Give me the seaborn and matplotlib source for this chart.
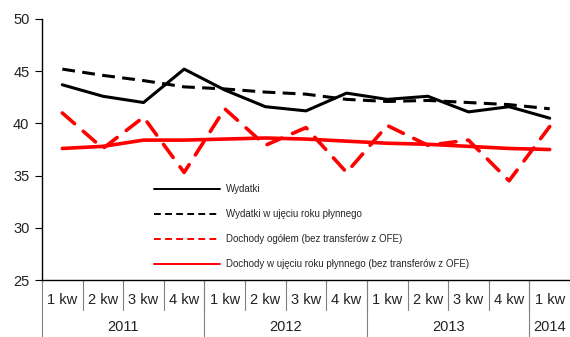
import matplotlib
matplotlib.use("Agg")
import matplotlib.pyplot as plt
from matplotlib.lines import Line2D
from matplotlib.transforms import blended_transform_factory
import seaborn as sns
import pandas as pd

sns.set_theme(style="white")
plt.rcParams["font.family"] = ["Liberation Sans", "DejaVu Sans"]

quarters = ["1 kw", "2 kw", "3 kw", "4 kw"] * 3 + ["1 kw"]
years = ["2011", "2012", "2013", "2014"]
year_spans = [(0, 4), (4, 8), (8, 12), (12, 13)]

wydatki = [43.7, 42.6, 42.0, 45.2, 43.2, 41.6, 41.2, 42.9, 42.3, 42.6, 41.1, 41.6, 40.5]
wydatki_rp = [45.2, 44.6, 44.1, 43.5, 43.3, 43.0, 42.8, 42.3, 42.1, 42.2, 42.0, 41.8, 41.4]
dochody = [41.0, 37.6, 40.6, 35.3, 41.4, 37.9, 39.6, 35.3, 39.8, 37.9, 38.4, 34.5, 39.7]
dochody_rp = [37.6, 37.8, 38.4, 38.4, 38.5, 38.6, 38.5, 38.3, 38.1, 38.0, 37.8, 37.6, 37.5]

labels = [
    "Wydatki",
    "Wydatki w ujęciu roku płynnego",
    "Dochody ogółem (bez transferów z OFE)",
    "Dochody w ujęciu roku płynnego (bez transferów z OFE)",
]

W, H = 570, 337
fig = plt.figure(figsize=(W / 100, H / 100), dpi=100)
ax = fig.add_axes([42 / W, (H - 280) / H, (W - 42) / W, (280 - 19) / H])

x = list(range(len(quarters)))
df = pd.DataFrame({"x": x, "w": wydatki, "wr": wydatki_rp, "d": dochody, "dr": dochody_rp})

sns.lineplot(data=df, x="x", y="dr", ax=ax, color="#ff0000", lw=2.6)
sns.lineplot(data=df, x="x", y="d", ax=ax, color="#ff0000", lw=2.6)
ax.lines[-1].set_dashes([4.5, 3.2])
ax.lines[-1].set_dash_capstyle("round")
sns.lineplot(data=df, x="x", y="wr", ax=ax, color="black", lw=2.2)
ax.lines[-1].set_dashes([4.2, 2.4])
sns.lineplot(data=df, x="x", y="w", ax=ax, color="black", lw=2.2)

ax.set_xlim(-0.5, len(quarters) - 0.5)
ax.set_ylim(25, 50)
ax.set_yticks([25, 30, 35, 40, 45, 50])
ax.tick_params(axis="y", left=True, length=5, width=0.8, color="black",
               labelsize=10.5, pad=4, labelcolor="#222222")
ax.set_xticks([])
ax.set_xlabel("")
ax.set_ylabel("")
for s in ["top", "right"]:
    ax.spines[s].set_visible(False)
for s in ["left", "bottom"]:
    ax.spines[s].set_color("black")
    ax.spines[s].set_linewidth(1.0)

# category axis below the plot: quarter labels, separators and years
tr = blended_transform_factory(ax.transData, ax.transAxes)
px = 1 / (280 - 19)
for i, q in enumerate(quarters):
    ax.text(i, -(300 - 280) * px, q, transform=tr, ha="center", va="center",
            fontsize=10.5, color="#222222")
for i in range(1, len(quarters)):
    ax.plot([i - 0.5, i - 0.5], [0, -(310 - 280) * px], transform=tr,
            color="#808080", lw=0.8, clip_on=False)
for b in [0, 4, 8, 12]:
    ax.plot([b - 0.5, b - 0.5], [0, -(337 - 280) * px], transform=tr,
            color="#808080", lw=0.8, clip_on=False)
for yr, (a, b) in zip(years, year_spans):
    ax.text((a + b - 1) / 2, -(327 - 280) * px, yr, transform=tr, ha="center",
            va="center", fontsize=10.5, color="#222222")

handles = [
    Line2D([], [], color="black", lw=1.4),
    Line2D([], [], color="black", lw=1.4, dashes=[3.5, 2.2]),
    Line2D([], [], color="#ff0000", lw=1.4, dashes=[3.5, 2.2]),
    Line2D([], [], color="#ff0000", lw=1.4),
]
ax.legend(handles, labels, loc="upper left", bbox_to_anchor=(154 / W, 1 - 184 / H),
          bbox_transform=fig.transFigure, frameon=False, fontsize=7,
          borderpad=0, borderaxespad=0, handlelength=6.8, handletextpad=0.6,
          labelspacing=1.55)

fig.savefig("out.png", dpi=100)
